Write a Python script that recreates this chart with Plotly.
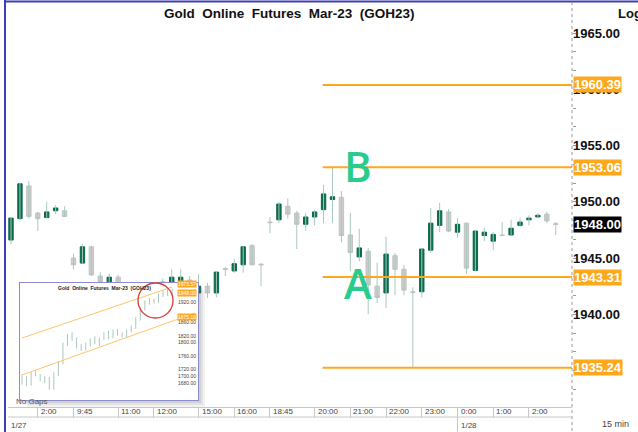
import plotly.graph_objects as go

# ---------------- main 15-min bars ----------------
opens = [1946.6, 1948.5, 1951.4, 1949.0, 1948.6, 1949.2, 1949.2, 1945.0, 1944.55, 1946.0,
         1943.4, 1942.6, 1943.3, 1942.4, 1942.0, 1941.5, 1942.1, 1942.9, 1942.7, 1942.95,
         1943.05, 1941.9, 1942.5, 1941.9, 1944.05, 1943.85, 1944.4, 1946.1, 1944.45, 1948.2,
         1948.4, 1949.6, 1949.0, 1948.0, 1948.65, 1949.3, 1950.2, 1950.4, 1947.05, 1945.1,
         1945.6, 1942.5, 1941.9, 1945.2, 1944.0, 1942.0, 1942.0, 1945.7, 1947.9, 1949.1,
         1947.3, 1948.1, 1943.9, 1947.0, 1946.5, 1947.05, 1947.05, 1947.9, 1948.4, 1948.65,
         1948.9, 1948.05]
highs = [1948.6, 1951.7, 1951.85, 1949.1, 1950.0, 1949.7, 1949.6, 1945.4, 1946.25, 1946.1,
         1943.75, 1943.6, 1943.5, 1942.8, 1942.6, 1942.4, 1942.7, 1943.2, 1944.0, 1944.0,
         1943.4, 1943.55, 1942.8, 1943.8, 1944.2, 1944.9, 1946.05, 1946.25, 1944.55, 1948.65,
         1950.0, 1950.3, 1949.2, 1949.0, 1949.3, 1951.5, 1953.0, 1950.95, 1949.0, 1947.6,
         1945.9, 1944.6, 1946.9, 1945.45, 1944.4, 1942.4, 1945.85, 1949.45, 1949.9, 1949.35,
         1948.55, 1948.15, 1947.45, 1947.7, 1947.3, 1948.2, 1948.4, 1948.55, 1948.8, 1949.0,
         1949.1, 1948.2]
lows = [1946.2, 1948.4, 1948.5, 1947.4, 1948.5, 1948.9, 1948.65, 1944.0, 1944.5, 1943.4,
        1942.7, 1942.4, 1942.0, 1941.6, 1941.2, 1941.2, 1941.8, 1942.3, 1942.5, 1942.6,
        1942.2, 1941.5, 1941.45, 1941.5, 1943.4, 1943.7, 1943.7, 1944.35, 1942.5, 1947.2,
        1948.1, 1948.5, 1945.8, 1947.4, 1947.9, 1948.1, 1948.1, 1946.4, 1943.85, 1944.7,
        1940.0, 1941.0, 1940.55, 1941.7, 1941.7, 1935.3, 1941.5, 1945.45, 1947.3, 1947.3,
        1946.8, 1943.6, 1943.8, 1946.5, 1945.7, 1947.0, 1947.0, 1947.75, 1947.9, 1948.6,
        1948.1, 1947.05]
closes = [1948.55, 1951.6, 1948.7, 1948.5, 1949.1, 1949.45, 1948.7, 1944.4, 1946.0, 1943.5,
          1942.9, 1943.3, 1942.4, 1942.0, 1941.5, 1942.1, 1942.4, 1942.6, 1943.3, 1943.3,
          1942.6, 1942.5, 1941.9, 1943.75, 1944.0, 1944.5, 1946.0, 1944.4, 1944.4, 1948.15,
          1949.8, 1948.9, 1948.0, 1948.65, 1949.1, 1950.7, 1950.45, 1947.0, 1945.5, 1945.9,
          1942.6, 1941.5, 1945.35, 1944.0, 1942.15, 1941.95, 1945.8, 1948.1, 1949.2, 1947.4,
          1948.0, 1944.1, 1947.4, 1947.3, 1947.1, 1947.0, 1947.65, 1948.2, 1948.55, 1948.8,
          1948.3, 1948.0]

tick_pos = [3, 7, 12, 16, 21, 25, 29, 34, 38, 42, 46, 50, 54, 58]
tick_labels = ["2:00", "9:45", "11:00", "12:00", "15:00", "16:00", "18:45", "20:00",
               "21:00", "22:00", "23:00", "0:00", "1:00", "2:00"]
date_labels = ["1/27", "1/28"]
date_pos = [None, 50]

y_ticks = [1940, 1945, 1950, 1955, 1960, 1965]
level_prices = [1960.39, 1953.06, 1943.31, 1935.24]
level_start = 34.9
last_price = 1948.00
point_labels = ["B", "A"]
point_x = [38.9, 38.9]
point_y = [1953.2, 1942.8]

# ---------------- inset daily bars ----------------
d_open = [1690, 1698, 1678, 1708, 1702, 1690, 1695, 1665, 1705, 1740, 1795, 1820, 1812, 1788,
          1780, 1795, 1805, 1800, 1812, 1825, 1815, 1832, 1825, 1820, 1835, 1845, 1870, 1900,
          1918, 1925, 1920, 1940, 1950, 1945]
d_high = [1705, 1700, 1712, 1718, 1706, 1700, 1698, 1712, 1745, 1800, 1825, 1830, 1815, 1795,
          1800, 1812, 1818, 1815, 1830, 1835, 1838, 1840, 1830, 1838, 1850, 1875, 1905, 1925,
          1932, 1930, 1945, 1955, 1958, 1960]
d_low = [1675, 1670, 1672, 1700, 1685, 1680, 1660, 1660, 1700, 1735, 1790, 1805, 1782, 1775,
         1776, 1788, 1795, 1790, 1808, 1810, 1812, 1820, 1815, 1816, 1830, 1840, 1865, 1895,
         1912, 1915, 1918, 1935, 1938, 1940]
d_close = [1698, 1678, 1708, 1702, 1690, 1695, 1665, 1705, 1740, 1795, 1820, 1812, 1788, 1780,
           1795, 1805, 1800, 1812, 1825, 1815, 1832, 1825, 1820, 1835, 1845, 1870, 1900, 1918,
           1925, 1920, 1940, 1950, 1945, 1948]
inset_ticks = [1680, 1700, 1720, 1760, 1800, 1820, 1860, 1920]
inset_tags = [1973.57, 1948.00, 1875.10]
channel_upper = [(0, 1813.3), (33, 1964.4)]
channel_lower = [(0, 1703.7), (38, 1887.4)]

# ---------------- geometry ----------------
W, H = 638, 432
ML, MR, MT, MB = 8, 66, 22, 25
PW, PH = W - ML - MR, H - MT - MB
def px_x(px):
    return (px - ML) / PW
def px_y(py):
    return (H - MB - py) / PH

x_range = [-0.336, 62.82]
y_range = [1931.76, 1965.98]
x2_range = [-0.44, 38.68]
y2_range = [1629.6, 1976.3]

GREEN = "#0b6b4d"
GRAY_F = "#cdcdcd"
GRAY_L = "#c2c2c2"
WICK = "#a9c8bd"
ORANGE = "#FFA81C"
MINT = "#29cc8e"

def wick_xy(h, l):
    xs, ys = [], []
    for i, (hh, ll) in enumerate(zip(h, l)):
        xs += [i, i, None]
        ys += [ll, hh, None]
    return xs, ys

fig = go.Figure()

wx, wy = wick_xy(highs, lows)
fig.add_trace(go.Scatter(x=wx, y=wy, mode="lines", line=dict(color=WICK, width=1),
                         hoverinfo="skip", showlegend=False))
fig.add_trace(go.Candlestick(
    x=list(range(len(opens))), open=opens, close=closes,
    high=[max(o, c) for o, c in zip(opens, closes)],
    low=[min(o, c) for o, c in zip(opens, closes)],
    increasing=dict(line=dict(color=GREEN, width=1), fillcolor=GREEN),
    decreasing=dict(line=dict(color=GRAY_L, width=1), fillcolor=GRAY_F),
    whiskerwidth=0, showlegend=False, hoverinfo="skip"))

# inset
fig.add_trace(go.Scatter(
    x=[x2_range[0], x2_range[1], x2_range[1], x2_range[0], x2_range[0]],
    y=[y2_range[0], y2_range[0], y2_range[1], y2_range[1], y2_range[0]],
    fill="toself", fillcolor="white", line=dict(width=0), mode="lines",
    xaxis="x2", yaxis="y2", hoverinfo="skip", showlegend=False))
dwx, dwy = wick_xy(d_high, d_low)
fig.add_trace(go.Scatter(x=dwx, y=dwy, mode="lines", line=dict(color=WICK, width=1),
                         xaxis="x2", yaxis="y2", hoverinfo="skip", showlegend=False))
fig.add_trace(go.Candlestick(
    x=list(range(len(d_open))), open=d_open, close=d_close,
    high=[max(o, c) for o, c in zip(d_open, d_close)],
    low=[min(o, c) for o, c in zip(d_open, d_close)],
    increasing=dict(line=dict(color=GREEN, width=1), fillcolor=GREEN),
    decreasing=dict(line=dict(color=GRAY_L, width=1), fillcolor=GRAY_F),
    whiskerwidth=0, xaxis="x2", yaxis="y2", showlegend=False, hoverinfo="skip"))

shapes = []
# inset drop shadow
for k, a in [(7, 0.05), (5, 0.06), (3, 0.08)]:
    shapes.append(dict(type="rect", xref="paper", yref="paper", layer="below",
                       x0=px_x(20 + k), x1=px_x(198 + k), y0=px_y(400 + k), y1=px_y(283 + k),
                       fillcolor=f"rgba(0,0,0,{a})", line=dict(width=0)))
# level lines
for p in level_prices:
    shapes.append(dict(type="line", xref="x", yref="y", x0=level_start, x1=x_range[1],
                       y0=p, y1=p, line=dict(color=ORANGE, width=2), layer="above"))
# channel lines in inset
for seg in (channel_upper, channel_lower):
    shapes.append(dict(type="line", xref="x2", yref="y2", x0=seg[0][0], y0=seg[0][1],
                       x1=seg[1][0], y1=seg[1][1], line=dict(color="#FFC46B", width=1),
                       layer="above"))
# red circle
shapes.append(dict(type="circle", xref="paper", yref="paper", x0=px_x(138), x1=px_x(173),
                   y0=px_y(318), y1=px_y(283), line=dict(color="#d93a32", width=1.3),
                   layer="above"))
# frame lines
shapes.append(dict(type="line", xref="paper", yref="paper", x0=px_x(5), x1=px_x(638),
                   y0=px_y(1.5), y1=px_y(1.5), line=dict(color="#3f3fb5", width=2)))
shapes.append(dict(type="line", xref="paper", yref="paper", x0=px_x(5), x1=px_x(5),
                   y0=px_y(0), y1=px_y(432), line=dict(color="#3f3fb5", width=2)))
shapes.append(dict(type="line", xref="paper", yref="paper", x0=1, x1=1,
                   y0=px_y(2), y1=px_y(432), line=dict(color="#9a9a9a", width=1, dash="dot")))
shapes.append(dict(type="line", xref="paper", yref="paper", x0=0, x1=1,
                   y0=px_y(417), y1=px_y(417), line=dict(color="#c8c8c8", width=1)))
shapes.append(dict(type="line", xref="x", yref="paper", x0=date_pos[1], x1=date_pos[1],
                   y0=px_y(417), y1=px_y(432), line=dict(color="#c8c8c8", width=1)))

ann = []
ann.append(dict(text="Gold\u00a0 Online\u00a0 Futures\u00a0 Mar-23\u00a0 (GOH23)",
                xref="paper", yref="paper", x=px_x(289), y=px_y(13), xanchor="center",
                yanchor="middle", showarrow=False,
                font=dict(family="Liberation Sans", size=13.5, color="#111", weight="bold")))
ann.append(dict(text="Log", xref="paper", yref="paper", x=px_x(616), y=px_y(13),
                xanchor="left", yanchor="middle", showarrow=False,
                font=dict(family="Liberation Sans", size=13, color="#111", weight="bold")))
for t, xx, yy in zip(point_labels, point_x, point_y):
    ann.append(dict(text=t, xref="x", yref="y", x=xx, y=yy, showarrow=False,
                    xanchor="center", yanchor="middle",
                    font=dict(family="Open Sans", size=42, color=MINT, weight=600)))
for p in level_prices:
    ann.append(dict(text=f"{p:.2f}", xref="paper", yref="y", x=1, xshift=1, y=p,
                    xanchor="left", yanchor="middle", showarrow=False, bgcolor=ORANGE,
                    borderpad=0,
                    font=dict(family="Liberation Sans", size=13, color="white", weight="bold")))
ann.append(dict(text=f"{last_price:.2f}", xref="paper", yref="y", x=1, xshift=1, y=last_price,
                xanchor="left", yanchor="middle", showarrow=False, bgcolor="#000", borderpad=0,
                font=dict(family="Liberation Sans", size=13, color="white", weight="bold")))
for tp, tl in zip(tick_pos, tick_labels):
    ann.append(dict(text=tl, xref="x", yref="paper", x=tp, xshift=1, y=px_y(412),
                    xanchor="left", yanchor="middle", showarrow=False,
                    font=dict(family="Liberation Sans", size=8, color="#444")))
ann.append(dict(text=date_labels[0], xref="paper", yref="paper", x=px_x(9), y=px_y(426),
                xanchor="left", yanchor="middle", showarrow=False,
                font=dict(family="Liberation Sans", size=8, color="#444")))
ann.append(dict(text=date_labels[1], xref="x", yref="paper", x=date_pos[1], xshift=1,
                y=px_y(426), xanchor="left", yanchor="middle", showarrow=False,
                font=dict(family="Liberation Sans", size=8, color="#444")))
ann.append(dict(text="No Gaps", xref="paper", yref="paper", x=px_x(14), y=px_y(401),
                xanchor="left", yanchor="middle", showarrow=False,
                font=dict(family="Liberation Sans", size=8, color="#555")))
ann.append(dict(text="15 min", xref="paper", yref="paper", x=px_x(600), y=px_y(424),
                xanchor="left", yanchor="middle", showarrow=False,
                font=dict(family="Liberation Sans", size=9, color="#444")))
# inset texts
ann.append(dict(text="Gold  Online  Futures  Mar-23  (GOH23)", xref="paper", yref="paper",
                x=px_x(104), y=px_y(288), xanchor="center", yanchor="middle", showarrow=False,
                font=dict(family="Liberation Sans", size=5, color="#222", weight="bold")))
for p in inset_tags:
    ann.append(dict(text=f"{p:.2f}", xref="paper", yref="y2", x=px_x(197), y=p,
                    xanchor="right", yanchor="middle", showarrow=False, bgcolor=ORANGE,
                    borderpad=0,
                    font=dict(family="Liberation Sans", size=5, color="white")))

fig.update_layout(
    width=W, height=H, margin=dict(l=ML, r=MR, t=MT, b=MB),
    paper_bgcolor="white", plot_bgcolor="white", showlegend=False,
    shapes=shapes, annotations=ann,
    xaxis=dict(range=x_range, domain=[0, 1], showgrid=False, zeroline=False,
               rangeslider=dict(visible=False), showline=True, linecolor="#c8c8c8",
               tickvals=tick_pos, ticks="outside", ticklen=10, tickcolor="#c8c8c8",
               showticklabels=False, fixedrange=True),
    yaxis=dict(range=y_range, domain=[0, 1], side="right", showgrid=False, zeroline=False,
               tickvals=y_ticks, ticktext=[f"{v:.2f}" for v in y_ticks], ticks="",
               tickfont=dict(family="Liberation Sans", size=13, color="#111", weight="bold"),
               minor=dict(ticks="outside", ticklen=3, dtick=5/3, tickcolor="#999"),
               fixedrange=True),
    xaxis2=dict(range=x2_range, domain=[px_x(20), px_x(198)], anchor="y2",
                showgrid=False, zeroline=False, rangeslider=dict(visible=False),
                showticklabels=False, showline=True, mirror=True, linecolor="#8c8ccc"),
    yaxis2=dict(range=y2_range, domain=[px_y(400), px_y(283)], anchor="x2", side="right",
                showgrid=False, zeroline=False, tickvals=inset_ticks,
                ticktext=[f"{v:.2f}" for v in inset_ticks], ticks="",
                ticklabelposition="inside",
                tickfont=dict(family="Liberation Sans", size=5, color="#444"),
                showline=True, mirror=True, linecolor="#8c8ccc"),
)

fig.write_html("out.html", config={"displayModeBar": False},
               post_script="document.body.style.margin='0';")
